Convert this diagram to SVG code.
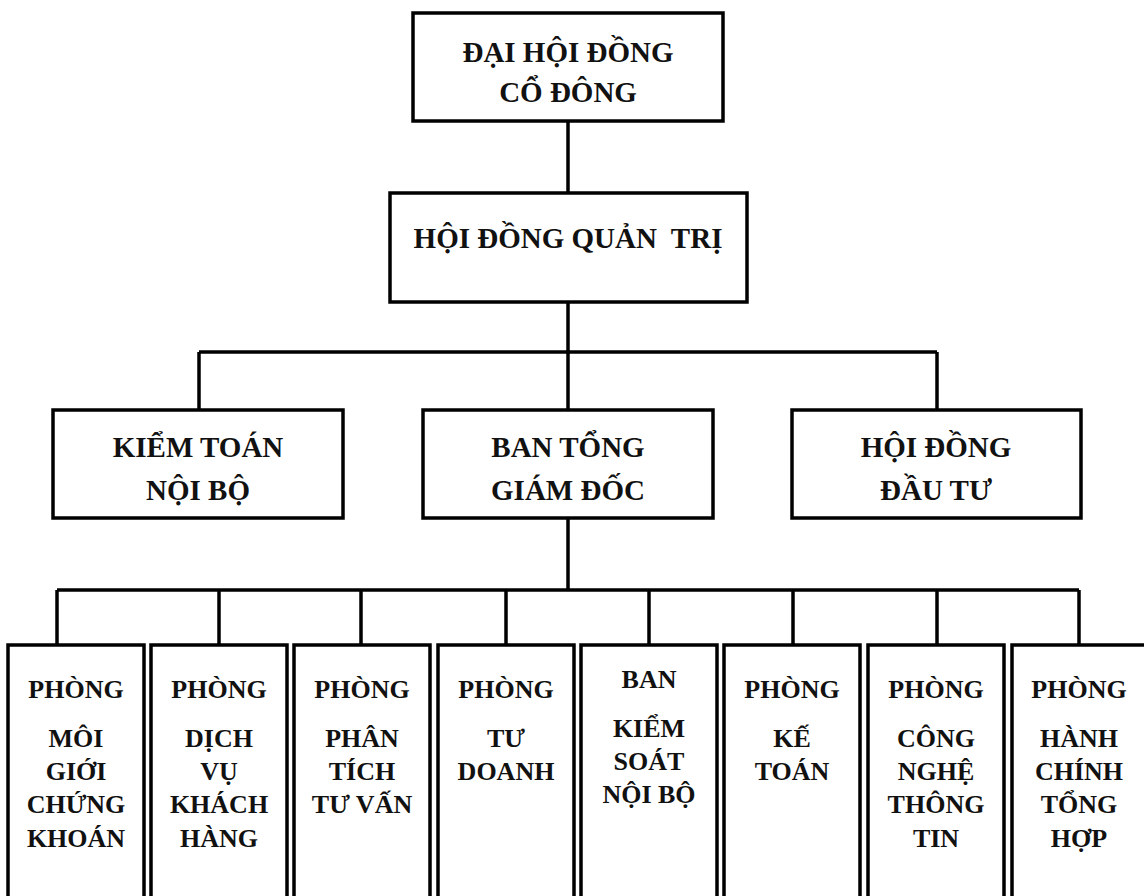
<svg xmlns="http://www.w3.org/2000/svg" width="1144" height="896" viewBox="0 0 1144 896">
<style>
.box{fill:#fff;stroke:#000;stroke-width:3.5}
.ln{fill:none;stroke:#000;stroke-width:3.5}
.t1{font-size:29px}
.t2{font-size:26px}
</style>
<rect width="1144" height="896" fill="#fff"/>
<g id="connectors">
<path class="ln" d="M568 121V193M568 302V352M199 352H937M199 352V410M568 352V410M937 352V410"/>
<path class="ln" d="M568 518V590M57 590H1079M57 590V645M219 590V645M361 590V645M506 590V645M649 590V645M793 590V645M937 590V645M1079 590V645"/>
</g>
<g font-family="'Liberation Serif', 'Times New Roman', 'DejaVu Serif', serif" font-weight="bold" fill="#111" text-anchor="middle">
<g id="dhdcd"><rect class="box" x="413" y="13" width="310" height="108"/><text class="t1" x="568" y="62">ĐẠI HỘI ĐỒNG</text><text class="t1" x="568" y="102">CỔ ĐÔNG</text></g>
<g id="hdqt"><rect class="box" x="390" y="193" width="357" height="109"/><text class="t1" x="568" y="248" xml:space="preserve">HỘI ĐỒNG QUẢN  TRỊ</text></g>
<g id="ktnb"><rect class="box" x="53" y="410" width="290" height="108"/><text class="t1" x="198" y="457">KIỂM TOÁN</text><text class="t1" x="198" y="500">NỘI BỘ</text></g>
<g id="btgd"><rect class="box" x="423" y="410" width="290" height="108"/><text class="t1" x="568" y="457">BAN TỔNG</text><text class="t1" x="568" y="500">GIÁM ĐỐC</text></g>
<g id="hddt"><rect class="box" x="792" y="410" width="289" height="108"/><text class="t1" x="936" y="457">HỘI ĐỒNG</text><text class="t1" x="936" y="500">ĐẦU TƯ</text></g>
<g id="p1"><rect class="box" x="8" y="645" width="136" height="260"/><text class="t2" x="76" y="698">PHÒNG</text><text class="t2" x="76" y="747">MÔI</text><text class="t2" x="76" y="780">GIỚI</text><text class="t2" x="76" y="813">CHỨNG</text><text class="t2" x="76" y="847">KHOÁN</text></g>
<g id="p2"><rect class="box" x="151" y="645" width="136" height="260"/><text class="t2" x="219" y="698">PHÒNG</text><text class="t2" x="219" y="747">DỊCH</text><text class="t2" x="219" y="780">VỤ</text><text class="t2" x="219" y="813">KHÁCH</text><text class="t2" x="219" y="847">HÀNG</text></g>
<g id="p3"><rect class="box" x="294" y="645" width="136" height="260"/><text class="t2" x="362" y="698">PHÒNG</text><text class="t2" x="362" y="747">PHÂN</text><text class="t2" x="362" y="780">TÍCH</text><text class="t2" x="362" y="813">TƯ VẤN</text></g>
<g id="p4"><rect class="box" x="438" y="645" width="136" height="260"/><text class="t2" x="506" y="698">PHÒNG</text><text class="t2" x="506" y="747">TƯ</text><text class="t2" x="506" y="780">DOANH</text></g>
<g id="p5"><rect class="box" x="581" y="645" width="136" height="260"/><text class="t2" x="649" y="688">BAN</text><text class="t2" x="649" y="737">KIỂM</text><text class="t2" x="649" y="770">SOÁT</text><text class="t2" x="649" y="803">NỘI BỘ</text></g>
<g id="p6"><rect class="box" x="724" y="645" width="136" height="260"/><text class="t2" x="792" y="698">PHÒNG</text><text class="t2" x="792" y="747">KẾ</text><text class="t2" x="792" y="780">TOÁN</text></g>
<g id="p7"><rect class="box" x="868" y="645" width="136" height="260"/><text class="t2" x="936" y="698">PHÒNG</text><text class="t2" x="936" y="747">CÔNG</text><text class="t2" x="936" y="780">NGHỆ</text><text class="t2" x="936" y="813">THÔNG</text><text class="t2" x="936" y="847">TIN</text></g>
<g id="p8"><rect class="box" x="1012" y="645" width="140" height="260"/><text class="t2" x="1079" y="698">PHÒNG</text><text class="t2" x="1079" y="747">HÀNH</text><text class="t2" x="1079" y="780">CHÍNH</text><text class="t2" x="1079" y="813">TỔNG</text><text class="t2" x="1079" y="847">HỢP</text></g>
</g>
</svg>
